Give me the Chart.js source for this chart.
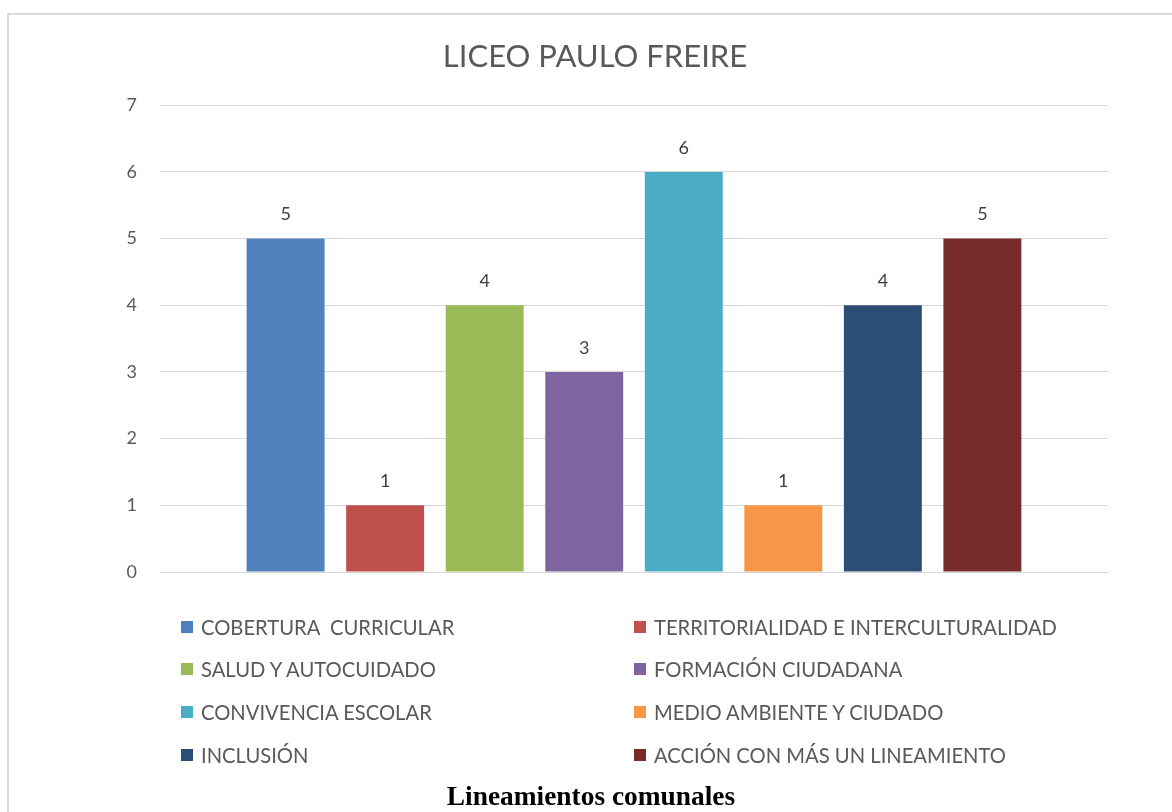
<!DOCTYPE html>
<html>
<head>
<meta charset="utf-8">
<script src="https://cdn.jsdelivr.net/npm/chart.js@4"></script>
<style>
  html, body { margin: 0; padding: 0; background: #fff; overflow: hidden; }
  #wrap { position: relative; width: 1172px; height: 812px; }
  #frame { position: absolute; left: 7px; top: 13px; width: 1200px; height: 900px;
           border-left: 2px solid #d9d9d9; border-top: 2px solid #d9d9d9; box-sizing: border-box; }
  #chartBox { position: absolute; left: 0; top: 0; width: 1172px; height: 812px; }
  .leg { position: absolute; font-family: Lato, "Open Sans", sans-serif; font-size: 20.2px; color: #595959;
         white-space: pre; line-height: 24px; height: 24px; }
  .leg i { position: absolute; left: -20px; top: 6px; width: 12px; height: 12px; }
  #foot { position: absolute; left: 10px; width: 1162px; top: 781px; text-align: center;
          font-family: "Liberation Serif", serif; font-weight: bold; font-size: 27.4px; color: #000; }
</style>
</head>
<body>
<div id="wrap">
  <div id="frame"></div>
  <div id="chartBox"><canvas id="lineamientosChart"></canvas></div>
  <div id="legend"></div>
  <div id="foot">Lineamientos comunales</div>
</div>
<script>
const lineamientos = [
  'COBERTURA  CURRICULAR',
  'TERRITORIALIDAD E INTERCULTURALIDAD',
  'SALUD Y AUTOCUIDADO',
  'FORMACIÓN CIUDADANA',
  'CONVIVENCIA ESCOLAR',
  'MEDIO AMBIENTE Y CIUDADO',
  'INCLUSIÓN',
  'ACCIÓN CON MÁS UN LINEAMIENTO'
];
const acciones = [5, 1, 4, 3, 6, 1, 4, 5];
const colores = ['#4F81BD', '#C0504D', '#9BBB59', '#8064A2', '#4BACC6', '#F79646', '#2C4D75', '#772C2A'];
const yTicks = [0, 1, 2, 3, 4, 5, 6, 7];

// etiquetas de valor encima de cada barra
const valueLabels = {
  id: 'valueLabels',
  afterDatasetsDraw(chart) {
    const ctx = chart.ctx;
    ctx.save();
    ctx.font = '18px Lato, "Open Sans", sans-serif';
    ctx.fillStyle = '#404040';
    ctx.textAlign = 'center';
    ctx.textBaseline = 'middle';
    chart.data.datasets.forEach((ds, i) => {
      chart.getDatasetMeta(i).data.forEach((bar, j) => {
        ctx.fillText(String(ds.data[j]), bar.x, bar.y - 24);
      });
    });
    ctx.restore();
  }
};

const ctx = document.getElementById('lineamientosChart').getContext('2d');
const lineamientosChart = new Chart(ctx, {
  type: 'bar',
  data: {
    labels: [''],
    datasets: lineamientos.map((nombre, i) => ({
      label: nombre,
      data: [acciones[i]],
      backgroundColor: colores[i],
      borderWidth: 0
    }))
  },
  options: {
    responsive: true,
    maintainAspectRatio: false,
    animation: false,
    categoryPercentage: 0.84,
    barPercentage: 0.783,
    layout: { padding: { left: 82, right: 64, top: 0, bottom: 240 } },
    plugins: {
      legend: { display: false },
      tooltip: { enabled: false },
      title: {
        display: true,
        text: 'LICEO PAULO FREIRE',
        color: '#595959',
        font: { family: 'Lato, "Open Sans", sans-serif', size: 31, weight: 'normal' },
        padding: { top: 38, bottom: 30 }
      }
    },
    scales: {
      x: { display: false },
      y: {
        min: 0,
        max: 7,
        afterBuildTicks: s => { s.ticks = yTicks.map(v => ({ value: v })); },
        afterFit: s => { s.width = 78; },
        border: { display: false },
        grid: { color: '#d9d9d9', lineWidth: 1, drawTicks: false },
        ticks: {
          color: '#595959',
          padding: 23,
          font: { family: 'Lato, "Open Sans", sans-serif', size: 18 }
        }
      }
    }
  },
  plugins: [valueLabels]
});

// leyenda en dos columnas
const legendEl = document.getElementById('legend');
const colX = [201, 654];
const rowY = [615, 657, 700, 743];
lineamientos.forEach((nombre, i) => {
  const d = document.createElement('div');
  d.className = 'leg';
  d.style.left = colX[i % 2] + 'px';
  d.style.top = rowY[Math.floor(i / 2)] + 'px';
  d.innerHTML = '<i style="background:' + colores[i] + '"></i>';
  d.appendChild(document.createTextNode(nombre));
  legendEl.appendChild(d);
});
</script>
</body>
</html>
